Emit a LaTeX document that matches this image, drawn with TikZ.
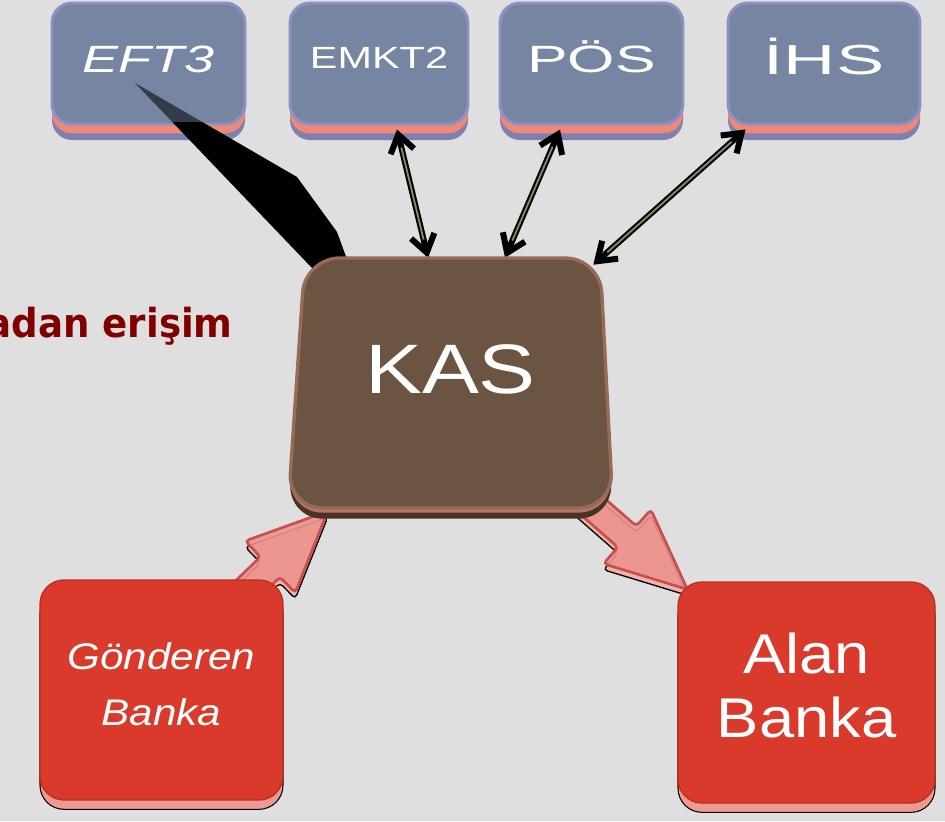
\documentclass[tikz,border=0pt]{standalone}
\usepackage{fontspec}
\usepackage{graphicx}
\setmainfont{Liberation Sans}
\newfontfamily\accessfont{DejaVu Sans}
\usetikzlibrary{arrows.meta,calc}
\pgfdeclarelayer{bglayer}
\pgfdeclarelayer{boxes}
\pgfdeclarelayer{links}
\pgfsetlayers{bglayer,boxes,links,main}
\definecolor{bgc}{HTML}{DFDFDF}
\definecolor{topface}{HTML}{7585A2}
\definecolor{topbevel}{HTML}{8C90C2}
\definecolor{topsalmon}{HTML}{F0887A}
\definecolor{toppurple}{HTML}{7E80AE}
\definecolor{kasface}{HTML}{6B5442}
\definecolor{kasbevel}{HTML}{9A6A58}
\definecolor{kassalmon}{HTML}{B47464}
\definecolor{kasdark}{HTML}{4A3228}
\definecolor{redface}{HTML}{D93A2B}
\definecolor{rededge}{HTML}{B8301F}
\definecolor{redband}{HTML}{EE9A94}
\definecolor{pinkfill}{HTML}{EC9490}
\definecolor{pinkedge}{HTML}{C8504C}
\definecolor{pinkshadow}{HTML}{F4B0AE}
\definecolor{shaftinner}{HTML}{8C8462}
\definecolor{accesscol}{HTML}{800000}
\newcommand{\wide}[2]{\scalebox{#1}[1]{#2}}
\newcommand{\pinkarrow}[2]{%
  \coordinate (pa-t) at #1;
  \coordinate (pa-h) at #2;
  \coordinate (pa-b) at ($(pa-h)!60pt!(pa-t)$);
  \coordinate (pa-t1) at ($(pa-t)!10.5pt!90:(pa-h)$);
  \coordinate (pa-t2) at ($(pa-t)!10.5pt!-90:(pa-h)$);
  \coordinate (pa-b1) at ($(pa-b)!10.5pt!90:(pa-h)$);
  \coordinate (pa-b2) at ($(pa-b)!10.5pt!-90:(pa-h)$);
  \coordinate (pa-w1) at ($(pa-b)!27pt!90:(pa-h)$);
  \coordinate (pa-w2) at ($(pa-b)!27pt!-90:(pa-h)$);
  \draw[pinkarrowstyle] (pa-t1) -- (pa-b1) -- (pa-w1) -- (pa-h) -- (pa-w2) -- (pa-b2) -- (pa-t2) -- cycle;
}
\begin{document}
\begin{tikzpicture}[x=0.75pt,y=-0.75pt,
  topbox/.style={rectangle, rounded corners=15pt, minimum height=90.75pt, inner sep=0pt,
    fill=topface, draw=topbevel, line width=2.2pt, text=white,
    preaction={fill=toppurple, transform canvas={yshift=-12pt}},
    preaction={fill=topsalmon, transform canvas={yshift=-7pt}}},
  kasshape/.style={rounded corners=26pt, fill=kasface, draw=kasbevel, line width=2.5pt,
    preaction={fill=kasdark, transform canvas={yshift=-8pt}},
    preaction={fill=kassalmon, transform canvas={yshift=-3.5pt}}},
  kasbox/.style={rectangle, minimum width=243.75pt, minimum height=187.5pt, inner sep=0pt, text=white},
  redbox/.style={rectangle, rounded corners=18pt, inner sep=0pt, fill=redface, draw=rededge,
    line width=1pt, text=white,
    preaction={fill=redband, draw=black, line width=0.8pt, transform canvas={yshift=-7pt}}},
  dblarrow/.style={draw=black, line width=4.5pt, <->, >={Straight Barb[length=13pt,width=18pt]}},
  shaftline/.style={draw=shaftinner, line width=1.4pt, shorten <=14pt, shorten >=14pt},
  pinkarrowstyle/.style={fill=pinkfill, fill opacity=0.9, draw=pinkedge, line width=2pt, rounded corners=3pt,
    preaction={fill=pinkshadow, fill opacity=1, draw=black, line width=1pt, transform canvas={yshift=-4.5pt}}},
  accesstext/.style={anchor=base east, inner sep=0pt, text=accesscol,
    font={\accessfont\fontsize{30}{36}\selectfont\bfseries}}
]
\useasboundingbox (0,0) rectangle (945,821);
\begin{pgfonlayer}{bglayer}
  \fill[bgc] (0,0) rectangle (945,821);
\end{pgfonlayer}

\begin{pgfonlayer}{boxes}
  \node[topbox, minimum width=144.75pt] (eft3) at (148.5,63.5)
    {\raisebox{-6.4pt}[0pt][0pt]{\wide{1.42}{\fontsize{28.5}{30}\itshape\selectfont EFT3}}};
  \node[topbox, minimum width=133.5pt] (emkt2) at (379,63.5)
    {\raisebox{-3.4pt}[0pt][0pt]{\wide{1.35}{\fontsize{23}{26}\selectfont EMKT2}}};
  \node[topbox, minimum width=137.25pt] (pos) at (591.5,63.5)
    {\raisebox{-6.4pt}[0pt][0pt]{\wide{1.6}{\fontsize{28.5}{30}\selectfont PÖS}}};
  \node[topbox, minimum width=144pt] (ihs) at (824,63.5)
    {\raisebox{-8.6pt}[0pt][0pt]{\wide{1.72}{\fontsize{31.5}{34}\selectfont İHS}}};
\end{pgfonlayer}

% central KAS block
\path[kasshape] (305,258) -- (600,258) -- (613,508) -- (288,508) -- cycle;
\node[kasbox] (kas) at (450.5,383)
  {\raisebox{-7.5pt}[0pt][0pt]{\wide{1.22}{\fontsize{52.5}{56}\selectfont KAS}}};

% bank blocks
\node[redbox, minimum width=182.25pt, minimum height=165pt] (gond) at (161.5,690)
  {\raisebox{15.75pt}[0pt][0pt]{\wide{1.14}{\fontsize{27.75}{42}\itshape\selectfont
   \begin{tabular}[t]{@{}c@{}}Gönderen\\Banka\end{tabular}}}\hspace{12pt}};
\node[redbox, minimum width=192.75pt, minimum height=165.75pt] (alan) at (806.5,692.5)
  {\raisebox{14.6pt}[0pt][0pt]{\wide{1.13}{\fontsize{42}{48}\selectfont
   \begin{tabular}[t]{@{}c@{}}Alan\\Banka\end{tabular}}}};

% partly cut caption on the left
\node[accesstext] (access) at (233,337) {\wide{0.93}{adan erişim}};

\begin{pgfonlayer}{links}
  % black wedge from EFT3 to KAS
  \begin{scope}
    \clip (52,3) rectangle (245,122);
    \fill[black, opacity=0.55] (135,83) -- (297,177) -- (337,232) -- (348,262) -- (330,290) -- (312,268) -- cycle;
  \end{scope}
  \begin{scope}
    \clip (0,122) rectangle (945,821);
    \fill[black] (135,83) -- (297,177) -- (337,232) -- (348,262) -- (330,290) -- (312,268) -- cycle;
  \end{scope}
  % double arrows
  \draw[dblarrow] ($(emkt2.south)+(18,4)$) -- ($(kas.north)+(-22.5,0)$);
  \draw[shaftline] ($(emkt2.south)+(18,4)$) -- ($(kas.north)+(-22.5,0)$);
  \draw[dblarrow] ($(pos.south)+(-31.5,4)$) -- ($(kas.north)+(54.5,0)$);
  \draw[shaftline] ($(pos.south)+(-31.5,4)$) -- ($(kas.north)+(54.5,0)$);
  \draw[dblarrow] ($(ihs.south west)+(19,4)$) -- ($(kas.north east)+(-20,7)$);
  \draw[shaftline] ($(ihs.south west)+(19,4)$) -- ($(kas.north east)+(-20,7)$);
  % big pink arrows
  \pinkarrow{($(gond.north east)+(-45,18)$)}{($(kas.south west)+(40,3)$)}
  \pinkarrow{($(kas.south east)+(-30,-10)$)}{($(alan.north west)+(10,8)$)}
\end{pgfonlayer}
\end{tikzpicture}
\end{document}
